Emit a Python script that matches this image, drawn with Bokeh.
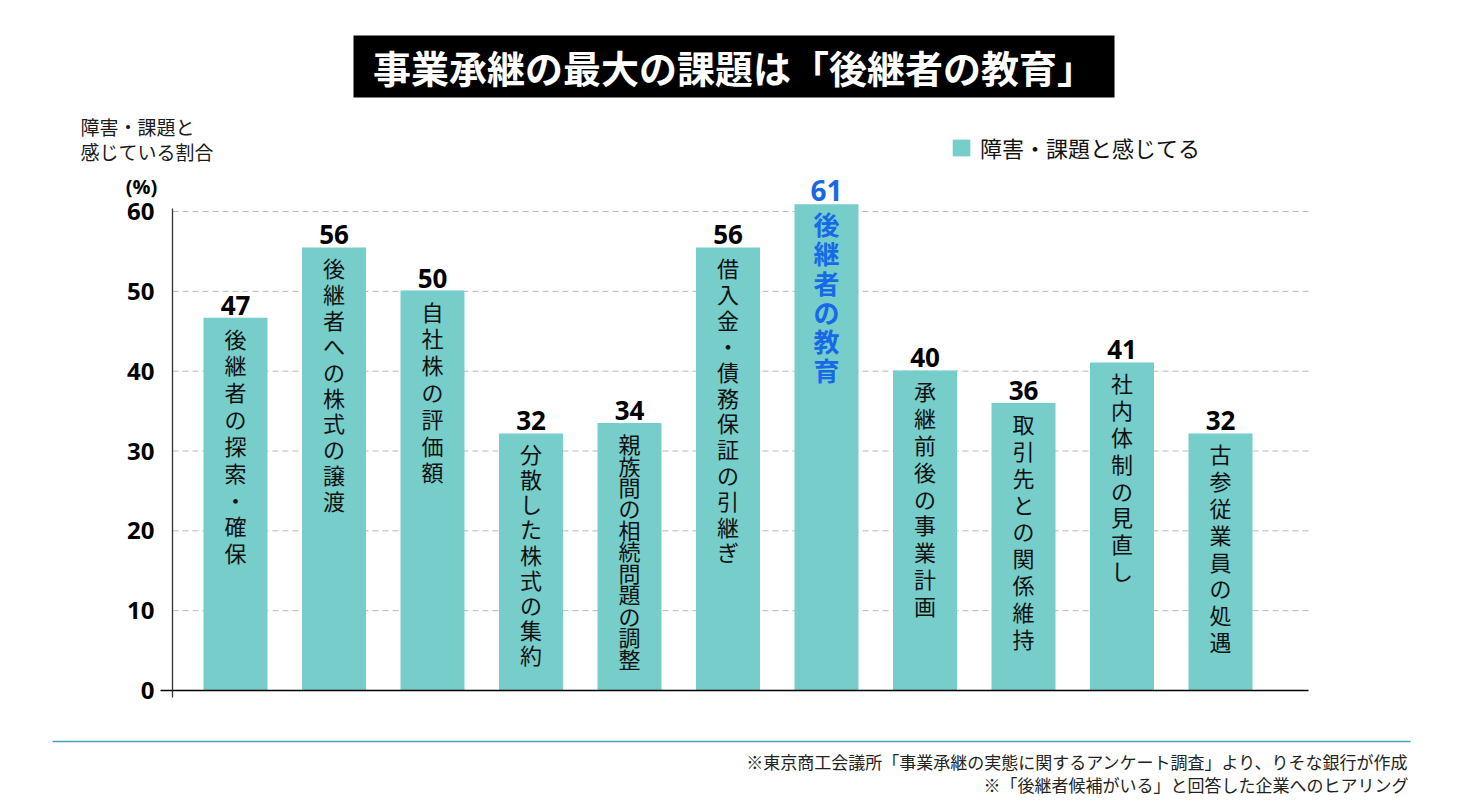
from bokeh.plotting import figure
from bokeh.models import ColumnDataSource, Label, FixedTicker, Legend, LegendItem
from bokeh.core.properties import value
from bokeh.embed import file_html
from bokeh.resources import INLINE

# ---- data ----
categories = ["後継者の探索・確保", "後継者への株式の譲渡", "自社株の評価額", "分散した株式の集約",
              "親族間の相続問題の調整", "借入金・債務保証の引継ぎ", "後継者の教育", "承継前後の事業計画",
              "取引先との関係維持", "社内体制の見直し", "古参従業員の処遇"]
values = [46.7, 55.5, 50.1, 32.2, 33.5, 55.5, 60.9, 40.1, 36.0, 41.1, 32.2]
value_labels = ["47", "56", "50", "32", "34", "56", "61", "40", "36", "41", "32"]
highlight = ["後継者の教育"]
y_ticks = [0, 10, 20, 30, 40, 50, 60]
series_name = "障害・課題と感じてる"
title_text = "事業承継の最大の課題は「後継者の教育」"
ylabel_lines = ["障害・課題と", "感じている割合"]
unit_text = "(%)"
notes = ["※東京商工会議所「事業承継の実態に関するアンケート調査」より、りそな銀行が作成",
         "※「後継者候補がいる」と回答した企業へのヒアリング"]

TEAL = "#76cdca"
BLUE = "#1769e6"
JP = "Noto Sans CJK JP"
NUM = "Open Sans"

# ---- layout helpers (page pixels -> data units) ----
PX0, PX_PITCH = 235.0, 98.5     # pixel x of first category centre, pixels per category
PY0, PY_UNIT = 690.0, 7.983     # pixel y of value 0, pixels per percentage point
def ux(px):
    return (px - PX0) / PX_PITCH
def vy(py):
    return (PY0 - py) / PY_UNIT

W, H = 1460, 796
LEFT = 50
CAT_FONT = 22
HI_FONT = 26
METRIC = 1.465   # font line box / font size for the CJK font

idx = list(range(len(categories)))
is_hi = [c in highlight for c in categories]
vert = ["\n".join(list(c)) for c in categories]

def char_pitch(i):
    n = len(categories[i])
    base = 27.0 if n <= 9 else 26.0
    return round(min(base, (values[i] * PY_UNIT - 30.0) / n), 1)

src_all = ColumnDataSource(dict(x=idx, top=values))
norm = [i for i in idx if not is_hi[i]]
hi = [i for i in idx if is_hi[i]]
def sub(ii):
    return ColumnDataSource(dict(x=[idx[i] for i in ii], top=[values[i] for i in ii],
                                 lab=[value_labels[i] for i in ii], txt=[vert[i] for i in ii]))
src_n, src_h = sub(norm), sub(hi)

p = figure(width=W, height=H, output_backend="svg", toolbar_location=None,
           x_range=(ux(LEFT), ux(W)), y_range=(vy(H), vy(0)),
           x_axis_location=None, min_border_left=LEFT, min_border_right=0,
           min_border_top=0, min_border_bottom=0)
p.outline_line_color = None
p.background_fill_color = "white"
p.border_fill_color = "white"
p.xgrid.visible = False
p.ygrid.visible = False

AX_X = ux(172)
AX_RIGHT = ux(1308)

yax = p.yaxis[0]
yax.ticker = FixedTicker(ticks=y_ticks)
yax.fixed_location = AX_X
yax.bounds = (vy(697), vy(208))
yax.axis_line_color = "#333333"
yax.axis_line_width = 1.3
yax.major_tick_line_color = None
yax.minor_tick_line_color = None
yax.major_label_text_font = NUM
yax.major_label_text_font_style = "bold"
yax.major_label_text_font_size = "24px"
yax.major_label_text_color = "black"
yax.major_label_standoff = 12

# dashed grid lines at the ticks
grid_y = [t for t in y_ticks if t > 0]
p.segment(x0=[AX_X] * len(grid_y), x1=[AX_RIGHT] * len(grid_y), y0=grid_y, y1=grid_y,
          line_color="#b8b8b8", line_dash="6 4", line_width=1)

bars = p.vbar(x="x", top="top", width=64 / PX_PITCH, source=src_all, fill_color=TEAL, line_color=None)

# x axis base line
p.segment(x0=[ux(160)], x1=[AX_RIGHT], y0=[0], y1=[0], line_color="black", line_width=1.5)

# value labels
p.text(x="x", y="top", text="lab", source=src_n, text_align="center", text_baseline="bottom",
       y_offset=-3, text_font=value(NUM), text_font_style="bold", text_font_size="26px",
       text_color="black")
p.text(x="x", y="top", text="lab", source=src_h, text_align="center", text_baseline="bottom",
       y_offset=-3, text_font=value(NUM), text_font_style="bold", text_font_size="28px",
       text_color=BLUE)

# vertical category labels, grouped by the character pitch that fits each bar
pitches = sorted(set(char_pitch(i) for i in norm))
for pt in pitches:
    ii = [i for i in norm if char_pitch(i) == pt]
    p.text(x="x", y="top", text="txt", source=sub(ii), text_align="center", text_baseline="top",
           y_offset=4, text_font=value(JP), text_font_size=f"{CAT_FONT}px",
           text_line_height=pt / (CAT_FONT * METRIC), text_color="#111111")
p.text(x="x", y="top", text="txt", source=src_h, text_align="center", text_baseline="top",
       y_offset=1, text_font=value(JP), text_font_style="bold", text_font_size=f"{HI_FONT}px",
       text_line_height=30.0 / (HI_FONT * METRIC), text_color=BLUE)

# title box
p.quad(left=[ux(353)], right=[ux(1114)], top=[vy(35)], bottom=[vy(97)], fill_color="black", line_color=None)
p.add_layout(Label(x=ux(733.5), y=vy(66), text=title_text, text_align="center", text_baseline="middle",
                   text_font=JP, text_font_style="bold", text_font_size="38px", text_color="white"))

# y label
for i, t in enumerate(ylabel_lines):
    p.add_layout(Label(x=ux(80), y=vy(126 + 25 * i), text=t, text_align="left", text_baseline="middle",
                       text_font=JP, text_font_size="19px", text_color="#1a1a1a"))
p.add_layout(Label(x=ux(141), y=vy(186), text=unit_text, text_align="center", text_baseline="middle",
                   text_font=NUM, text_font_style="bold", text_font_size="20px", text_color="black"))

# footer
p.segment(x0=[ux(52)], x1=[ux(1410)], y0=[vy(741)], y1=[vy(741)], line_color="#3aa3bd", line_width=1.5)
for i, t in enumerate(notes):
    p.add_layout(Label(x=ux(1408), y=vy(761 + 23 * i), text=t, text_align="right", text_baseline="middle",
                       text_font=JP, text_font_size="17px", text_color="#222222"))

legend = Legend(items=[LegendItem(label=series_name, renderers=[bars])],
                location=(950 - LEFT, H - 163),
                glyph_width=22, glyph_height=21, label_text_font=JP, label_text_font_size="22px",
                label_text_color="#111111",
                label_standoff=8, padding=0, margin=0, border_line_color=None,
                background_fill_alpha=0)
p.add_layout(legend, "center")

open("out.html", "w").write(file_html(p, INLINE))
